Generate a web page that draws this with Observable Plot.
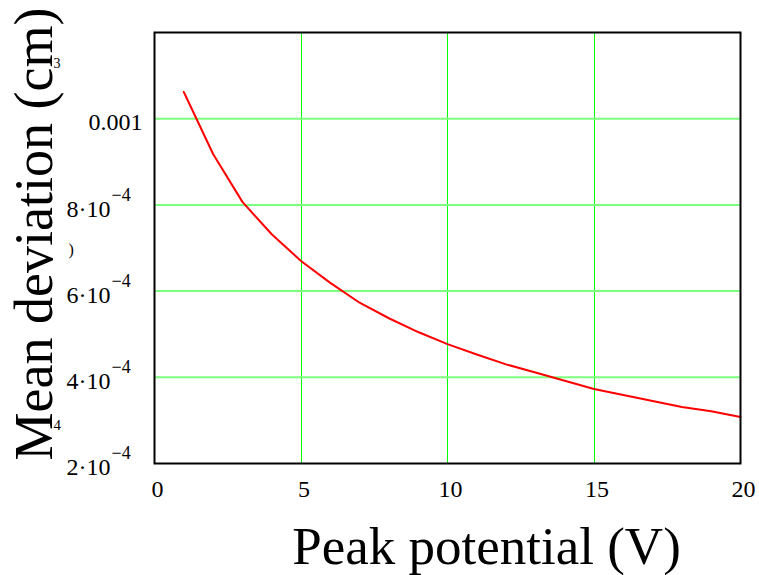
<!DOCTYPE html>
<html>
<head>
<meta charset="utf-8">
<script src="https://cdn.jsdelivr.net/npm/d3@7"></script>
<script src="https://cdn.jsdelivr.net/npm/@observablehq/plot@0.6"></script>
<style>
  html, body { margin: 0; padding: 0; background: #fff; }
  #chart svg { display: block; }
</style>
</head>
<body>
<div id="chart"></div>
<script>
// Peak potential (V)
const potential = [1, 2, 3, 4, 5, 6, 7, 8, 9, 10, 11, 12, 13, 14, 15, 16, 17, 18, 19, 20];
// Mean deviation (cm)
const deviation = [
  1.062e-3, 9.18e-4, 8.07e-4, 7.32e-4, 6.70e-4, 6.19e-4, 5.73e-4, 5.37e-4, 5.05e-4, 4.77e-4,
  4.53e-4, 4.30e-4, 4.11e-4, 3.92e-4, 3.73e-4, 3.59e-4, 3.45e-4, 3.31e-4, 3.21e-4, 3.08e-4
];

const xTicks = [0, 5, 10, 15, 20];
const xGrid = [5, 10, 15];
const yGrid = [4e-4, 6e-4, 8e-4, 1e-3];

// y tick labels: plain decimals, and mantissa·10 with a superscript exponent
const yPlainTicks = [1e-3];
const yPlainLabels = ["0.001"];
const yPowerTicks = [2e-4, 4e-4, 6e-4, 8e-4];
const yPowerMantissa = ["2·10", "4·10", "6·10", "8·10"];
const yPowerExponent = ["\u22124", "\u22124", "\u22124", "\u22124"];

const xTitle = "Peak potential (V)";
const yTitle = "Mean deviation (cm)";

const data = potential.map((v, i) => ({potential: v, deviation: deviation[i]}));
const plainRows = yPlainTicks.map((v, i) => ({v, label: yPlainLabels[i]}));
const powerRows = yPowerTicks.map((v, i) => ({v, mant: yPowerMantissa[i], exp: yPowerExponent[i]}));

const serif = "'Liberation Serif', 'Times New Roman', serif";

const chart = Plot.plot({
  width: 759,
  height: 575,
  marginLeft: 154,
  marginRight: 19,
  marginTop: 32,
  marginBottom: 112,
  style: {fontFamily: serif, background: "#fff", color: "#000"},
  x: {domain: [0, 20]},
  y: {domain: [2e-4, 1.2e-3], axis: null},
  marks: [
    Plot.gridX(xGrid, {stroke: "#00ff00", strokeOpacity: 1, strokeWidth: 1, shapeRendering: "crispEdges"}),
    Plot.gridY(yGrid, {stroke: "#7dff7d", strokeOpacity: 1, strokeWidth: 2}),
    Plot.line(data, {x: "potential", y: "deviation", stroke: "#ff0000", strokeWidth: 2}),
    Plot.frame({stroke: "#000", strokeWidth: 2}),
    Plot.axisX(xTicks, {tickSize: 0, tickPadding: 16, dx: 3, fontSize: 24, label: null, fill: "#000"}),
    // y tick labels
    Plot.text(plainRows, {y: "v", text: "label", frameAnchor: "left", textAnchor: "end",
      lineAnchor: "middle", dx: -12, dy: 4, fontSize: 24, fill: "#000"}),
    Plot.text(powerRows, {y: "v", text: "mant", frameAnchor: "left", textAnchor: "end",
      lineAnchor: "middle", dx: -44, dy: 4, fontSize: 24, fill: "#000"}),
    Plot.text(powerRows, {y: "v", text: "exp", frameAnchor: "left", textAnchor: "start",
      lineAnchor: "middle", dx: -43, dy: -10, fontSize: 18, fill: "#000"}),
    // axis titles
    Plot.text([xTitle], {text: d => d, frameAnchor: "bottom", textAnchor: "middle", lineAnchor: "middle",
      dx: 39, dy: 84, fontSize: 53, fill: "#000"}),
    Plot.text([yTitle], {text: d => d, frameAnchor: "left", textAnchor: "middle", lineAnchor: "middle",
      rotate: -90, dx: -120, dy: -14, fontSize: 54, fill: "#000"}),
    // stray superscript fragments beside the y title
    Plot.text(["3"], {text: d => d, frameAnchor: "top-left", textAnchor: "start", lineAnchor: "middle",
      dx: -101, dy: 31, fontSize: 14, fill: "#000"}),
    Plot.text([")"], {text: d => d, frameAnchor: "top-left", textAnchor: "start", lineAnchor: "middle",
      dx: -86, dy: 217, fontSize: 16, fill: "#000"}),
    Plot.text(["4"], {text: d => d, frameAnchor: "top-left", textAnchor: "start", lineAnchor: "middle",
      dx: -101, dy: 393, fontSize: 15, fill: "#000"})
  ]
});

document.getElementById("chart").appendChild(chart);
</script>
</body>
</html>
